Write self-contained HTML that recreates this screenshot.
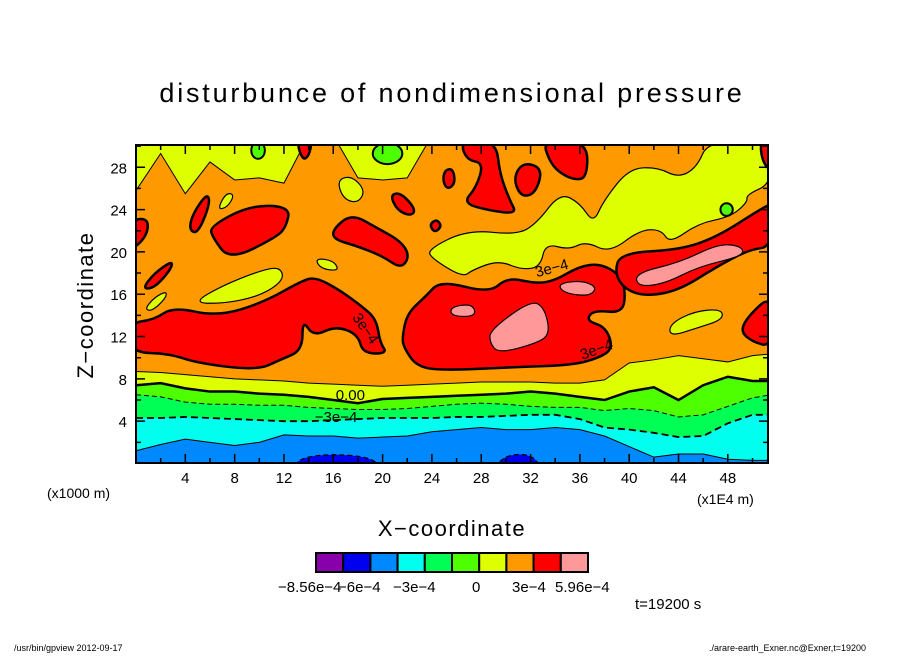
<!DOCTYPE html>
<html><head><meta charset="utf-8"><style>
body{margin:0;background:#fff;width:904px;height:654px;overflow:hidden}
svg text{font-family:"Liberation Sans",sans-serif}
</style></head><body>
<svg id="chart" width="904" height="654" viewBox="0 0 904 654" xmlns="http://www.w3.org/2000/svg">
<text x="452" y="102" text-anchor="middle" font-size="27" letter-spacing="2.8">disturbunce of nondimensional pressure</text>
<defs><clipPath id="pc"><rect x="136" y="145" width="632" height="318"/></clipPath></defs>
<g id="plot" clip-path="url(#pc)"></g>
<g id="axes"></g>
<text transform="translate(93,305) rotate(-90)" text-anchor="middle" font-size="22" letter-spacing="1.5">Z−coordinate</text>
<text x="452" y="536" text-anchor="middle" font-size="22" letter-spacing="1.5">X−coordinate</text>
<text x="47" y="498" font-size="14">(x1000 m)</text>
<text x="697" y="504" font-size="14">(x1E4 m)</text>
<g id="cbar"></g>
<text x="635" y="609" font-size="15">t=19200 s</text>
<text x="14" y="651" font-size="9">/usr/bin/gpview   2012-09-17</text>
<text x="866" y="651" text-anchor="end" font-size="9">./arare-earth_Exner.nc@Exner,t=19200</text>
</svg>
<script>
// ---- data ----
const bandX = [0,2,4,6,8,10,12,14,16,18,20,22,24,26,28,30,32,34,36,38,40,42,44,46,48,50,52];
const topYellowZ = [25.8,29.3,25.5,28.5,26.8,27,26.5,31,31,27,26.8,27,31,31,31,31,31,31,31,31,31,31,31,31,31,31,31];
const orangeYellowZ = [8.7,8.6,8.4,8.2,8.0,7.9,7.8,7.6,7.5,7.4,7.3,7.4,7.5,7.6,7.7,7.7,7.7,7.6,7.6,7.9,9.5,9.8,10.2,9.9,9.6,10.2,10.4];
const zeroLineZ = [7.4,7.6,7.1,6.8,6.8,6.6,6.5,6.3,6.0,5.7,6.1,6.2,6.3,6.4,6.5,6.6,6.8,6.6,6.3,6.0,6.8,7.2,6.0,7.4,8.2,7.8,7.8];
const greenGreenZ = [6.5,6.3,5.8,5.6,5.6,5.5,5.5,5.3,5.2,5.1,5.1,5.2,5.4,5.6,5.7,5.6,5.4,5.3,5.3,5.0,5.2,5.0,4.4,4.6,5.4,6.2,6.6];
const cyanGreenZ = [4.3,4.3,4.4,4.3,4.2,4.1,4.0,4.0,4.1,4.2,4.3,4.3,4.3,4.4,4.4,4.5,4.6,4.6,4.2,3.4,3.2,2.9,2.5,2.6,3.8,4.6,4.6];
const blueCyanZ = [1.2,1.8,2.3,2.0,1.7,2.0,2.7,2.6,2.6,2.4,2.5,2.6,3.0,3.2,3.4,3.2,3.2,3.4,3.2,2.6,1.6,0.6,0.9,0.9,0.4,0.3,0.3];
const blobLevels = ['yellow','red','red','red','red','red','red','red','red','red','red','red','red','red','yellow','yellow','yellow','yellow','yellow','yellow','pink','pink','pink','pink','deepblue','deepblue','red','red','red','red'];
const blobShapes = [
 [[23.6,20.2],[26.9,22.1],[30.9,21.6],[32.5,22.7],[34.4,25.6],[36.0,24.6],[37.1,22.7],[37.9,24.8],[40.0,27.9],[42.3,28.0],[44.0,27.0],[45.5,28.0],[46.4,30.5],[51.6,30.5],[51.6,26.5],[49.5,25.4],[49.6,24.7],[48.2,23.3],[45.6,22.7],[43.3,20.8],[42.6,22.1],[40.9,22.1],[38.4,19.9],[36.5,21.0],[35.1,20.2],[33.2,20.8],[32.8,18.6],[31.3,18.3],[29.4,19.2],[27.3,18.3],[26.5,17.6],[24.1,19.3]],
 [[-0.5,13.3],[1.5,13.6],[3.0,14.8],[6.6,13.9],[10.3,15.2],[13.5,17.3],[14.6,17.6],[16.5,16.4],[18.4,14.8],[19.5,13.6],[19.8,11.4],[20.4,10.4],[18.4,10.4],[18.0,12.2],[16.2,13.0],[14.4,12.0],[13.5,13.6],[13.5,10.7],[11.7,9.8],[9.8,8.8],[4.9,9.5],[2.7,10.4],[-0.5,10.5]],
 [[21.7,11.0],[22.8,9.1],[25.2,8.8],[30.6,9.1],[35.4,9.3],[37.6,10.0],[38.7,10.9],[38.1,12.9],[36.5,13.5],[37.1,14.5],[39.5,14.2],[39.7,16.4],[39.2,17.9],[37.6,18.9],[35.9,18.6],[34.0,17.3],[32.5,17.0],[30.1,17.6],[28.7,16.1],[24.7,17.3],[23.5,15.8],[22.0,14.2],[21.6,12.0]],
 [[39.3,19.9],[44.1,20.2],[47.1,21.4],[50.6,24.0],[51.6,24.6],[51.6,20.5],[49.7,20.2],[47.1,18.6],[44.1,16.4],[41.5,15.8],[39.7,16.4],[38.8,18.0]],
 [[16.0,22.2],[17.5,23.6],[19.5,22.3],[21.5,21.0],[22.2,19.6],[21.5,18.4],[20.0,19.6],[17.8,20.6],[16.0,21.2]],
 [[6.0,22.4],[9.2,24.4],[12.5,24.3],[12.2,22.4],[11.4,21.4],[7.6,19.2],[6.2,21.4]],
 [[5.8,25.6],[6.0,24.5],[5.0,21.7],[4.3,22.1],[4.6,23.6]],
 [[-0.5,23.0],[1.0,23.2],[0.9,21.5],[-0.5,20.0]],
 [[0.5,16.5],[1.5,18.0],[3.0,19.2],[2.8,18.3],[1.5,16.6]],
 [[26.3,30.5],[29.2,30.5],[29.5,27.4],[30.3,24.9],[30.9,23.6],[28.7,23.9],[26.5,24.6],[27.6,26.1],[28.2,28.4],[26.8,28.7]],
 [[31.4,28.5],[33.0,27.9],[32.4,25.5],[31.2,25.2],[30.6,27.0]],
 [[33.0,30.5],[36.6,30.5],[36.6,27.0],[35.5,26.8],[34.2,27.6],[33.5,28.7]],
 [[51.6,16.0],[49.7,14.0],[49.0,12.5],[50.0,11.5],[51.6,11.0]],
 [[50.6,30.5],[51.6,30.5],[51.6,27.5],[50.8,28.5]],
 [[4.6,15.2],[7.0,16.8],[10.0,18.2],[11.7,18.6],[12.0,17.3],[10.0,15.8],[7.0,15.1]],
 [[0.7,14.6],[1.5,15.7],[2.5,16.3],[2.4,15.6],[1.3,14.4]],
 [[14.5,19.4],[16.0,19.2],[16.5,18.2],[15.0,18.4]],
 [[6.6,24.0],[7.3,25.6],[8.0,25.4],[7.4,24.2]],
 [[43.3,13.2],[45.3,14.4],[47.5,14.6],[47.6,13.6],[45.5,12.8],[43.3,12.0]],
 [[16.3,26.8],[17.5,27.2],[18.6,25.8],[18.0,24.6],[16.8,25.0]],
 [[40.5,18.0],[44.1,19.0],[47.3,20.8],[49.2,20.5],[49.2,19.6],[45.6,18.6],[42.9,17.0],[40.7,16.7]],
 [[28.7,12.6],[32.0,15.4],[33.1,14.8],[33.6,12.3],[32.6,11.4],[29.4,10.4],[28.7,11.4]],
 [[25.5,14.8],[27.3,15.1],[27.6,13.9],[25.6,13.9]],
 [[34.2,17.0],[36.1,17.3],[37.4,16.7],[36.8,15.8],[34.7,16.1]],
 [[12.5,-0.5],[13.5,0.6],[16.0,0.9],[19.0,0.6],[20.0,-0.5]],
 [[29.0,-0.5],[30.0,0.8],[32.0,0.9],[33.0,-0.5]],
 [[20.6,25.4],[21.5,25.6],[22.7,24.0],[22.3,23.4],[21.2,23.9]],
 [[25.0,27.7],[25.7,27.9],[25.9,26.5],[25.3,25.9],[24.9,26.6]],
 [[23.8,22.6],[24.4,23.1],[24.8,22.4],[24.2,21.8]],
 [[13.0,30.5],[14.3,30.5],[14.0,29.0],[13.5,28.7]]
];
const greenDots = [[9.9,29.6,0.55,0.8],[20.4,29.3,1.2,1.0],[47.9,24.0,0.5,0.6]];
const cbarColors = ['#8800aa','#0000ee','#0088ff','#00ffee','#00ff55','#4dff00','#ddff00','#ff9900','#ff0000','#ff9999'];
const cbarLabels = ['−8.56e−4','−6e−4','−3e−4','0','3e−4','5.96e−4'];
const cbarLabelPos = [278,338,393,472,512,555];
const xTicks = [4,8,12,16,20,24,28,32,36,40,44,48];
const zTicks = [4,8,12,16,20,24,28];

// ---- scales ----
const X0=136, XS=12.33, Y0=463.5, YS=10.58;
const sx = x => X0 + x*XS;
const sy = z => Y0 - z*YS;
const col = {deepblue:'#0000ee',blue:'#0088ff',cyan:'#00ffee',green:'#00ff55',lgreen:'#4dff00',yellow:'#ddff00',orange:'#ff9900',red:'#ff0000',pink:'#ff9999'};
const NS='http://www.w3.org/2000/svg';
const plot=document.getElementById('plot');
function mk(tag,parent){const e=document.createElementNS(NS,tag);parent.appendChild(e);return e;}
function smooth(pts){
  const p=pts.map(q=>[sx(q[0]),sy(q[1])]);const n=p.length;
  const m=i=>[(p[i][0]+p[(i+1)%n][0])/2,(p[i][1]+p[(i+1)%n][1])/2];
  let d='M'+m(n-1).join(',');
  for(let i=0;i<n;i++){d+=' Q'+p[i].join(',')+' '+m(i).join(',');}
  return d+'Z';
}
function lineD(zs){return bandX.map((x,i)=>(i?'L':'M')+sx(x)+','+sy(zs[i])).join(' ');}
function bandFill(zs,fromZ){return lineD(zs)+' L'+sx(52)+','+sy(fromZ)+' L'+sx(0)+','+sy(fromZ)+'Z';}

let bg=mk('rect',plot);


bg.setAttribute('x',136);bg.setAttribute('y',145);bg.setAttribute('width',632);bg.setAttribute('height',318);bg.setAttribute('fill',col.orange);

const bands=[[topYellowZ,31,'yellow','top-yellow-band',1,null],[orangeYellowZ,-1,'yellow','yellow-band',1,null],[zeroLineZ,-1,'lgreen','light-green-band',2.5,null],[greenGreenZ,-1,'green','green-band',1,'5,3'],[cyanGreenZ,-1,'cyan','cyan-band',1.8,'7,4'],[blueCyanZ,-1,'blue','blue-band',1,null]];
bands.forEach(b=>{
  const f=mk('path',plot);
  
  
  f.setAttribute('d',bandFill(b[0],b[1]));f.setAttribute('fill',col[b[2]]);
  const l=mk('path',plot);
  
  
  l.setAttribute('d',lineD(b[0]));l.setAttribute('fill','none');l.setAttribute('stroke','#000');l.setAttribute('stroke-width',b[4]);
  if(b[5])l.setAttribute('stroke-dasharray',b[5]);
});
blobShapes.forEach((s,i)=>{
  const lv=blobLevels[i];
  const p=mk('path',plot);
  
  
  p.setAttribute('d',smooth(s));p.setAttribute('fill',col[lv]);
  p.setAttribute('stroke','#000');p.setAttribute('stroke-width',(lv==='red')?2.5:1.2);
  if(lv==='deepblue')p.setAttribute('stroke-dasharray','5,3');
});
greenDots.forEach(g=>{
  const e=mk('ellipse',plot);
  
  
  e.setAttribute('cx',sx(g[0]));e.setAttribute('cy',sy(g[1]));e.setAttribute('rx',g[2]*XS);e.setAttribute('ry',g[3]*YS);
  e.setAttribute('fill',col.lgreen);e.setAttribute('stroke','#000');e.setAttribute('stroke-width',2);
});
const cl=[['0.00',16.2,6.0,0],['−3e−4',14.5,3.9,0],['3e−4',32.5,17.6,-15],['3e−4',17.5,13.8,55],['3e−4',36.2,9.8,-20]];
cl.forEach(c=>{
  const t=mk('text',plot);
  
  
  t.setAttribute('x',sx(c[1]));t.setAttribute('y',sy(c[2]));t.setAttribute('font-size','15');
  t.setAttribute('transform',`rotate(${c[3]} ${sx(c[1])} ${sy(c[2])})`);
  t.textContent=c[0];
});
const ax=document.getElementById('axes');
const fr=mk('rect',ax);


fr.setAttribute('x',136);fr.setAttribute('y',145);fr.setAttribute('width',632);fr.setAttribute('height',318);fr.setAttribute('fill','none');fr.setAttribute('stroke','#000');fr.setAttribute('stroke-width',2);
let td='';
for(let x=2;x<=50;x+=2){const L=(x%4===0)?9:5;td+=`M${sx(x)},463 v${-L} M${sx(x)},145 v${L} `;}
for(let z=2;z<=30;z+=2){const L=(z%4===0)?9:5;td+=`M136,${sy(z)} h${L} M768,${sy(z)} h${-L} `;}
const tk=mk('path',ax);


tk.setAttribute('d',td);tk.setAttribute('stroke','#000');tk.setAttribute('stroke-width',1.5);
xTicks.forEach(v=>{const t=mk('text',ax);
  
  
  t.setAttribute('x',sx(v));t.setAttribute('y',483);t.setAttribute('text-anchor','middle');t.setAttribute('font-size','15');t.textContent=v;});
zTicks.forEach(v=>{const t=mk('text',ax);
  
  
  t.setAttribute('x',127);t.setAttribute('y',sy(v)+6);t.setAttribute('text-anchor','end');t.setAttribute('font-size','15');t.textContent=v;});
const cb=document.getElementById('cbar');
cbarColors.forEach((c,i)=>{const r=mk('rect',cb);
  
  
  r.setAttribute('x',316+i*27.2);r.setAttribute('y',553);r.setAttribute('width',27.2);r.setAttribute('height',19);r.setAttribute('fill',c);r.setAttribute('stroke','#000');r.setAttribute('stroke-width',2);});
cbarLabels.forEach((s,i)=>{const t=mk('text',cb);
  
  
  t.setAttribute('x',cbarLabelPos[i]);t.setAttribute('y',592);t.setAttribute('font-size','15');t.textContent=s;});
</script>
</body></html>
